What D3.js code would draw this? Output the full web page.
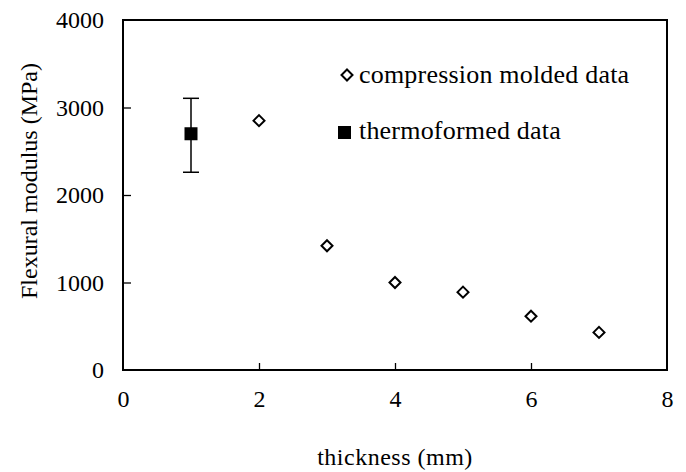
<!DOCTYPE html>
<html><head><meta charset="utf-8">
<script src="https://cdn.jsdelivr.net/npm/d3@7"></script>
<style>body{margin:0;background:#fff}svg{display:block}text{font-family:"Liberation Serif","Times New Roman",serif;fill:#000}</style>
</head><body><svg id="c" width="686" height="472"></svg>
<script>
const compThickness = [2, 3, 4, 5, 6, 7];
const compModulus = [2850, 1420, 1000, 890, 615, 430];
const thermoThickness = [1];
const thermoModulus = [2700];
const thermoErrLow = [2260];
const thermoErrHigh = [3105];
const xTicks = [0, 2, 4, 6, 8];
const yTicks = [0, 1000, 2000, 3000, 4000];
const legendLabels = ["compression molded data", "thermoformed data"];

const svg = d3.select("#c");
const L = 123, R = 667, T = 20, B = 370;
const x = d3.scaleLinear().domain([0, 8]).range([L, R]);
const y = d3.scaleLinear().domain([0, 4000]).range([B, T]);

// frame
svg.append("rect").attr("x", L).attr("y", T).attr("width", R - L).attr("height", B - T)
  .attr("fill", "none").attr("stroke", "#000").attr("stroke-width", 2);

// x axis (ticks inward)
const xa = svg.append("g").attr("transform", `translate(0,${B})`)
  .call(d3.axisBottom(x).tickValues(xTicks).tickSizeInner(-7).tickSizeOuter(0).tickPadding(20).tickFormat(d3.format("d")));
xa.select(".domain").remove();
xa.selectAll("line").attr("stroke", "#000").attr("stroke-width", 1.3);
xa.selectAll("text").attr("font-size", 24).attr("font-family", "Liberation Serif").attr("fill", "#000").attr("dy", "0.71em");
xa.selectAll(".tick").filter(d => d === 0 || d === 8).select("line").remove();

const ya = svg.append("g").attr("transform", `translate(${L},0)`)
  .call(d3.axisLeft(y).tickValues(yTicks).tickSizeInner(-8).tickSizeOuter(0).tickPadding(19).tickFormat(d3.format("d")));
ya.select(".domain").remove();
ya.selectAll("line").attr("stroke", "#000").attr("stroke-width", 1.3);
ya.selectAll("text").attr("font-size", 24).attr("font-family", "Liberation Serif").attr("fill", "#000");
ya.selectAll(".tick").filter(d => d === 0 || d === 4000).select("line").remove();

// axis titles
svg.append("text").attr("x", 395).attr("y", 465).attr("text-anchor", "middle").attr("font-size", 24).attr("letter-spacing", 0.5).text("thickness (mm)");
svg.append("text").attr("transform", "translate(37,181) rotate(-90)").attr("text-anchor", "middle").attr("font-size", 24).text("Flexural modulus (MPa)");

// error bar
const cap = 8;
thermoThickness.forEach((t, i) => {
  const g = svg.append("g").attr("stroke", "#000").attr("stroke-width", 1.5);
  g.append("line").attr("x1", x(t)).attr("x2", x(t)).attr("y1", y(thermoErrLow[i])).attr("y2", y(thermoErrHigh[i]));
  g.append("line").attr("x1", x(t) - cap).attr("x2", x(t) + cap).attr("y1", y(thermoErrLow[i])).attr("y2", y(thermoErrLow[i]));
  g.append("line").attr("x1", x(t) - cap).attr("x2", x(t) + cap).attr("y1", y(thermoErrHigh[i])).attr("y2", y(thermoErrHigh[i]));
});

// markers
const diamond = (cx, cy, r) => `M${cx},${cy - r}L${cx + r},${cy}L${cx},${cy + r}L${cx - r},${cy}Z`;
svg.append("g").selectAll("path").data(compThickness).join("path")
  .attr("d", (d, i) => diamond(x(d), y(compModulus[i]), 5.5))
  .attr("fill", "#fff").attr("stroke", "#000").attr("stroke-width", 2);
const sq = 13;
svg.append("g").selectAll("rect").data(thermoThickness).join("rect")
  .attr("x", d => x(d) - sq / 2).attr("y", (d, i) => y(thermoModulus[i]) - sq / 2)
  .attr("width", sq).attr("height", sq).attr("fill", "#000");

// legend
svg.append("path").attr("d", diamond(347, 75, 5.5)).attr("fill", "#fff").attr("stroke", "#000").attr("stroke-width", 2);
svg.append("text").attr("x", 359).attr("y", 83).attr("font-size", 26).attr("letter-spacing", 0.2).text(legendLabels[0]);
svg.append("rect").attr("x", 338).attr("y", 126).attr("width", sq).attr("height", sq).attr("fill", "#000");
svg.append("text").attr("x", 359).attr("y", 139).attr("font-size", 26).attr("letter-spacing", 0.2).text(legendLabels[1]);
</script></body></html>
